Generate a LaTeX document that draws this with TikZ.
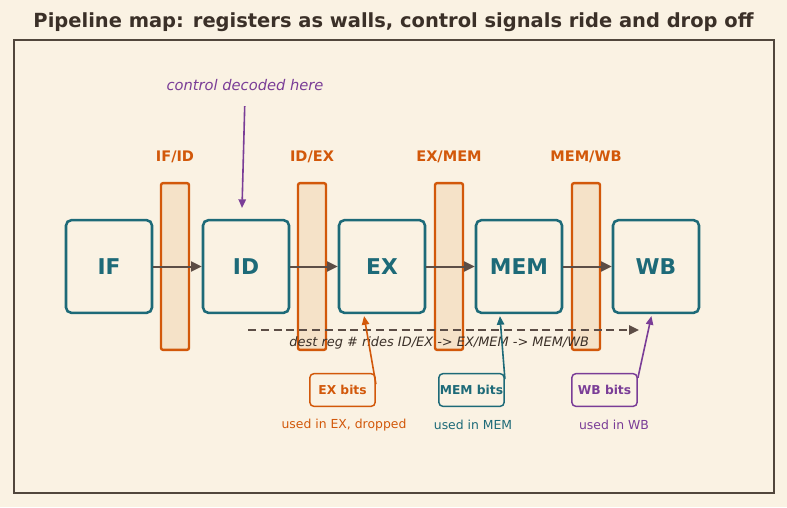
\documentclass[tikz,border=0pt]{standalone}
\usepackage{fontspec}
\setmainfont{DejaVu Sans}
\usetikzlibrary{arrows.meta,positioning}

\definecolor{bgcream}{HTML}{FAF2E3}
\definecolor{inkdark}{HTML}{3B3028}
\definecolor{framegray}{HTML}{51463C}
\definecolor{stageteal}{HTML}{1D6A78}
\definecolor{regorange}{HTML}{D2580A}
\definecolor{regfill}{HTML}{F5E2C8}
\definecolor{ctrlpurple}{HTML}{7A3D97}
\definecolor{flowgray}{HTML}{5C4D46}

\begin{document}
\begin{tikzpicture}[x=0.75pt, y=-0.75pt,
  stage/.style={draw=stageteal, line width=1.9pt, rounded corners=4pt, fill=bgcream,
    minimum width=64.5pt, minimum height=69.5pt, inner sep=0pt,
    text=stageteal, font=\fontsize{16.3}{18}\selectfont\bfseries},
  reg/.style={draw=regorange, line width=1.8pt, rounded corners=1.5pt, fill=regfill,
    minimum width=21pt, minimum height=125pt, inner sep=0pt},
  reglabel/.style={text=regorange, font=\fontsize{10.9}{12}\selectfont\bfseries},
  tag/.style={draw=#1, line width=1.1pt, rounded corners=3pt, fill=bgcream, text=#1,
    minimum width=49pt, minimum height=24.5pt, inner sep=0pt,
    font=\fontsize{9.2}{10}\selectfont\bfseries},
  note/.style={text=#1, font=\fontsize{9.3}{10}\selectfont},
  flow/.style={draw=flowgray, line width=1.5pt, -{Triangle[length=8pt, width=7.5pt]}},
  pointer/.style={draw=#1, line width=1.2pt, -{Triangle[length=6.5pt, width=5.5pt]}}]

  % === Canvas and frame ===
  \fill[bgcream] (0,0) rectangle (787,507);
  \useasboundingbox (0,0) rectangle (787,507);
  \draw[framegray, line width=1.1pt] (14,40) rectangle (774,493);

  % Title
  \node[text=inkdark, font=\fontsize{14.6}{17}\selectfont\bfseries] (title) at (393.5,22)
    {Pipeline map: registers as walls, control signals ride and drop off};

  % === Pipeline registers (walls) ===
  \node[reg] (ifid)  at (175,266.5) {};
  \node[reg] (idex)  at (312,266.5) {};
  \node[reg] (exmem) at (449,266.5) {};
  \node[reg] (memwb) at (586,266.5) {};
  \node[reglabel] (ifidlbl)  at (175,157) {IF/ID};
  \node[reglabel] (idexlbl)  at (312,157) {ID/EX};
  \node[reglabel] (exmemlbl) at (449,157) {EX/MEM};
  \node[reglabel] (memwblbl) at (586,157) {MEM/WB};

  % === Stages ===
  \foreach \name/\txt/\x in {if/IF/109, id/ID/246, ex/EX/382, mem/MEM/519, wb/WB/656}
    \node[stage] (\name) at (\x,266.5) {\txt};

  % Data flow through the walls
  \foreach \a/\b in {if/id, id/ex, ex/mem, mem/wb}
    \draw[flow] (\a) -- (\b);

  % === Control decode ===
  \node[text=ctrlpurple, font=\fontsize{11}{13}\selectfont\itshape] (ctrl) at (245,85)
    {control decoded here};
  \coordinate (ctrltip) at (242,208);
  \draw[pointer=ctrlpurple, shorten <=8pt] (ctrl.south) -- (ctrltip);

  % Destination register rides along
  \coordinate (dstart) at (248,330);
  \coordinate (dend) at (639,330);
  \draw[flowgray, line width=1.5pt, dash pattern=on 6pt off 3.6pt,
        -{Triangle[length=7.5pt, width=7pt]}] (dstart) -- (dend)
    node[pos=0.489, below=1pt, text=inkdark, font=\fontsize{9.7}{11}\selectfont\itshape] (destlbl)
    {dest reg \# rides ID/EX -> EX/MEM -> MEM/WB};

  % === Control bit groups ===
  \node[tag=regorange]  (exbits)  at (342.5,390) {EX bits};
  \node[tag=stageteal]  (membits) at (471.5,390) {MEM bits};
  \node[tag=ctrlpurple] (wbbits)  at (604.5,390) {WB bits};
  \node[note=regorange]  (exnote)  at (344,425) {used in EX, dropped};
  \node[note=stageteal]  (memnote) at (473,425) {used in MEM};
  \node[note=ctrlpurple] (wbnote)  at (614,425) {used in WB};

  % Where each group is consumed
  \draw[pointer=regorange,  shorten >=1.5pt] (exbits.10)  -- (ex.-111);
  \draw[pointer=stageteal,  shorten >=1.5pt] (membits.18) -- (mem.-112);
  \draw[pointer=ctrlpurple, shorten >=1.5pt] (wbbits.20)  -- (wb.-95);

\end{tikzpicture}
\end{document}
